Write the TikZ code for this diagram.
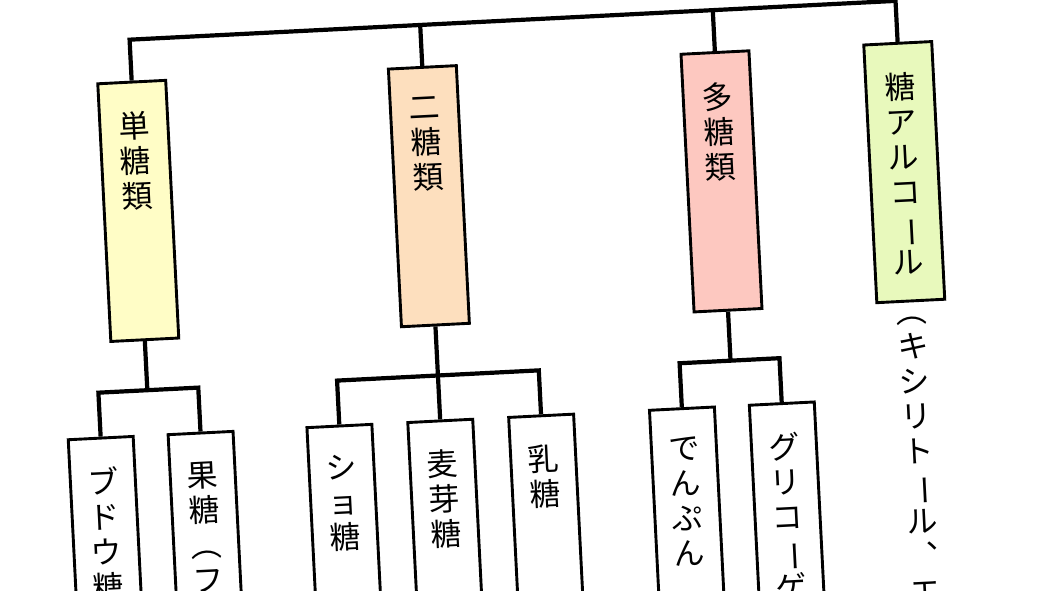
\documentclass[tikz,border=0pt]{standalone}
\usepackage{fontspec}
\setmainfont{Noto Sans CJK JP}
\usepackage{xcolor}
\usepackage{graphicx}
\usepackage{tikz}
\usetikzlibrary{positioning}
\definecolor{monocolor}{HTML}{FFFDC6}
\definecolor{dicolor}{HTML}{FDDFBE}
\definecolor{polycolor}{HTML}{FDC8C0}
\definecolor{alccolor}{HTML}{E8F9BC}
\newcommand{\vbar}{\rotatebox[origin=c]{-90}{ー}}

\begin{document}
\begin{tikzpicture}[
    x=0.5pt, y=-0.5pt,
    group/.style={rectangle, draw=black, line width=1.45pt, fill=#1, minimum width=34pt, minimum height=129pt, inner sep=0pt, anchor=north},
    item/.style={group=white, minimum width=32.5pt, minimum height=140pt},
    vlabel/.style={anchor=north, align=center, inner sep=0pt, font=\fontsize{15.5pt}{17.5pt}\selectfont},
    link/.style={line width=2.1pt}
]
\useasboundingbox (0,0) rectangle (1050,590);
\clip (0,0) rectangle (1050,590);
\begin{scope}[rotate around={2.9:(525,295)}, transform shape]
% top row
\node[group=monocolor] (mono) at (143,61) {};
\node[group=dicolor] (di) at (434,61) {};
\node[group=polycolor] (poly) at (727,61) {};
\node[group=alccolor] (alc) at (910,61) {};
\node[vlabel] (mono-t) at (143,92) {単\\糖\\類};
\node[vlabel] (di-t) at (434,92) {二\\糖\\類};
\node[vlabel] (poly-t) at (727,92) {多\\糖\\類};
\node[vlabel] (alc-t) at (910,92) {糖\\ア\\ル\\コ\\\vbar\\ル};
\node[vlabel] (alc-n) at (910,336) {︵\\キ\\シ\\リ\\ト\\\vbar\\ル\\︑\\エ};
% second row
\node[item] (glu) at (94,415) {};
\node[item] (fru) at (194,415) {};
\node[item] (suc) at (333,415) {};
\node[item] (malt) at (434,415) {};
\node[item] (lac) at (535,415) {};
\node[item] (starch) at (676,415) {};
\node[item] (glyco) at (776,415) {};
\node[vlabel] (glu-t) at (94,445) {ブ\\ド\\ウ\\糖};
\node[vlabel] (fru-t) at (194,445) {果\\糖\\︵\\フ};
\node[vlabel] (suc-t) at (333,445) {シ\\ョ\\糖};
\node[vlabel] (malt-t) at (434,445) {麦\\芽\\糖};
\node[vlabel] (lac-t) at (535,445) {乳\\糖};
\node[vlabel] (starch-t) at (676,445) {で\\ん\\ぷ\\ん};
\node[vlabel] (glyco-t) at (776,445) {グ\\リ\\コ\\\vbar\\ゲ};
% connectors
\coordinate (bar-mono) at (143,20);
\coordinate (bar-di) at (434,20);
\coordinate (bar-poly) at (727,20);
\coordinate (bar-alc) at (910,20);
\draw[link] (mono.north) -- (bar-mono) -- (bar-alc) -- (alc.north);
\draw[link] (di.north) -- (bar-di);
\draw[link] (poly.north) -- (bar-poly);
\coordinate (mono-j) at (143,371);
\coordinate (mono-l) at (94,371);
\coordinate (mono-r) at (194,371);
\draw[link] (mono.south) -- (mono-j);
\draw[link] (glu.north) -- (mono-l) -- (mono-r) -- (fru.north);
\coordinate (di-l) at (333,371);
\coordinate (di-r) at (535,371);
\draw[link] (di.south) -- (malt.north);
\draw[link] (suc.north) -- (di-l) -- (di-r) -- (lac.north);
\coordinate (poly-j) at (727,371);
\coordinate (poly-l) at (676,371);
\coordinate (poly-r) at (776,371);
\draw[link] (poly.south) -- (poly-j);
\draw[link] (starch.north) -- (poly-l) -- (poly-r) -- (glyco.north);
\end{scope}
\end{tikzpicture}
\end{document}
